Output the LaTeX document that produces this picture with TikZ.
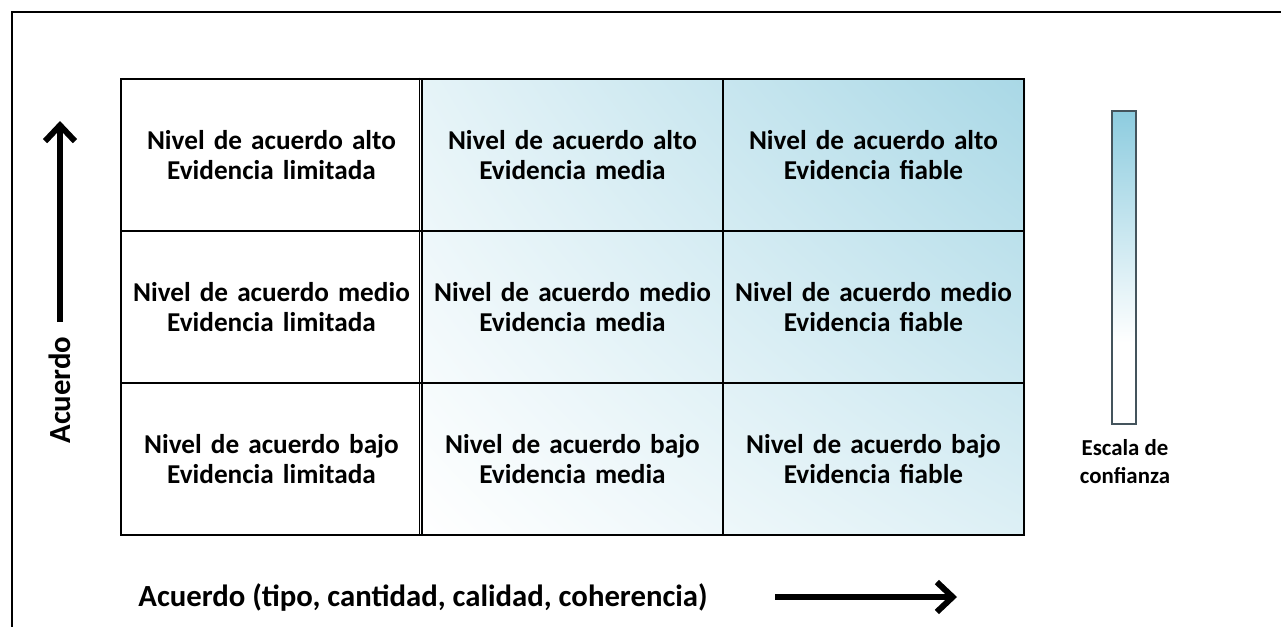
\documentclass[tikz,border=0pt]{standalone}
\usepackage{fontspec}
\setmainfont{Carlito}
\usetikzlibrary{arrows.meta,shadings}

\definecolor{scaleblue}{HTML}{8DCCDF}
\definecolor{gridblue}{HTML}{A9D8E6}
\definecolor{barline}{HTML}{44545C}
\pgfdeclareverticalshading{confscale}{100bp}{color(0bp)=(white); color(38bp)=(white); color(75bp)=(scaleblue); color(100bp)=(scaleblue)}

\tikzset{
  frame/.style={line width=1.7pt},
  cell/.style={draw, line width=1.6pt, minimum width=6.02cm, minimum height=3.04cm,
    text width=5.9cm, align=center, inner sep=0pt},
  bigarrow/.style={line width=3.4pt, -{Straight Barb[length=9pt,width=17pt]}},
  axislabel/.style={font=\bfseries\fontsize{17.5}{20}\selectfont},
  scalebar/.style={draw=barline, line width=0.8pt, minimum width=0.48cm,
    minimum height=6.26cm, inner sep=0pt, shading=confscale}
}

\begin{document}
\begin{tikzpicture}[x=0.02cm, y={(0cm,-0.02cm)},
  font=\bfseries\fontsize{15.5}{17}\selectfont]
  \useasboundingbox (0,0) rectangle (1281,626);
  % outer frame, runs off the page on the right and bottom
  \draw[frame] (12,700) |- (1400,12);

  % shaded part of the grid
  \shade[lower left=white, upper right=gridblue, upper left=gridblue!30, lower right=gridblue!40]
    (422,79) rectangle (1025,535);

  % cells
  \node[cell] (c11) at (271.5,155) {Nivel de acuerdo alto\\Evidencia limitada};
  \node[cell] (c12) at (572.5,155) {Nivel de acuerdo alto\\Evidencia media};
  \node[cell] (c13) at (873.5,155) {Nivel de acuerdo alto\\Evidencia fiable};
  \node[cell] (c21) at (271.5,307) {Nivel de acuerdo medio\\Evidencia limitada};
  \node[cell] (c22) at (572.5,307) {Nivel de acuerdo medio\\Evidencia media};
  \node[cell] (c23) at (873.5,307) {Nivel de acuerdo medio\\Evidencia fiable};
  \node[cell] (c31) at (271.5,459) {Nivel de acuerdo bajo\\Evidencia limitada};
  \node[cell] (c32) at (572.5,459) {Nivel de acuerdo bajo\\Evidencia media};
  \node[cell] (c33) at (873.5,459) {Nivel de acuerdo bajo\\Evidencia fiable};
  \draw[line width=0.7pt] ([xshift=-0.07cm]c11.north east) -- ([xshift=-0.07cm]c31.south east);

  % axes
  \coordinate (vbot) at (60,322);
  \coordinate (vtop) at (60,121);
  \draw[bigarrow] (vbot) -- (vtop);
  \node[axislabel, rotate=90] (vlab) at (60,390) {Acuerdo};
  \node[axislabel] (hlab) at (423,597) {Acuerdo (tipo, cantidad, calidad, coherencia)};
  \coordinate (hbeg) at (775,597);
  \coordinate (hend) at (957,597);
  \draw[bigarrow] (hbeg) -- (hend);

  % confidence scale
  \node[scalebar] (bar) at (1124,267.5) {};
  \node[align=center, font=\bfseries\fontsize{13}{16}\selectfont] (barlab) at (1125,462) {Escala de\\confianza};
\end{tikzpicture}
\end{document}
